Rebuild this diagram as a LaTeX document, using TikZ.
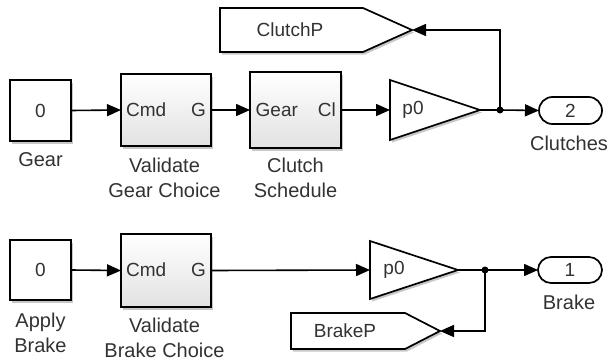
\documentclass[tikz,border=0pt]{standalone}
\usepackage{fontspec}
\setmainfont{Liberation Sans}
\usetikzlibrary{arrows.meta,shadows,shapes.misc}
\definecolor{txt}{RGB}{50,50,50}
\definecolor{subbot}{RGB}{226,226,226}
\tikzset{
  wire/.style={line width=1.6pt, draw=black},
  arr/.style={wire, -{Triangle[length=14pt,width=12pt]}},
  shd/.style={drop shadow={shadow xshift=2pt, shadow yshift=-2.5pt, opacity=0.22, fill=black}},
  constblk/.style={draw=black, line width=1.7pt, fill=white, shd, inner sep=0, outer sep=0, text=txt, font=\fontsize{19}{20}\selectfont},
  subblk/.style={draw=black, line width=1.7pt, top color=white, bottom color=subbot, shd, inner sep=0, outer sep=0},
  frame/.style={draw=none, inner sep=0, outer sep=0},
  intxt/.style={text=txt, font=\fontsize{19}{20}\selectfont, inner sep=0},
  lbl/.style={text=txt, font=\fontsize{20}{22}\selectfont, inner sep=0, anchor=base},
  outblk/.style={draw=black, line width=1.7pt, fill=white, rounded rectangle, inner sep=0, outer sep=0, text=txt, font=\fontsize{19}{20}\selectfont},
  shape poly/.style={line width=1.7pt, draw=black, fill=white, shd},
  junc/.style={circle, fill=black, inner sep=0, minimum size=7pt},
}
\begin{document}
\begin{tikzpicture}[x=1pt,y=-1pt]
\useasboundingbox (0,0) rectangle (609,361);
% ---------- top row ----------
\node[constblk, minimum width=61pt, minimum height=61pt] (gear) at (40.5,110.5) {0};
\node[lbl] (gearlbl) at (40.5,166) {Gear};

\node[subblk, minimum width=90pt, minimum height=72pt] (vgc) at (166,110) {};
\node[intxt, anchor=west] (vgccmd) at (126,110) {Cmd};
\node[intxt, anchor=east] (vgcg) at (206,110) {G};
\node[lbl] (vgclbl1) at (164.5,172) {Validate};
\node[lbl] (vgclbl2) at (164.5,197) {Gear Choice};

\node[subblk, minimum width=91pt, minimum height=76pt] (cs) at (295.5,110) {};
\node[intxt, anchor=west] (csgear) at (255.5,110) {Gear};
\node[intxt, anchor=east] (cscl) at (336,110) {Cl};
\node[lbl] (cslbl1) at (295.5,172) {Clutch};
\node[lbl] (cslbl2) at (295.5,197) {Schedule};

\node[frame, minimum width=90pt, minimum height=60pt] (g1) at (435,110) {};
\path[shape poly] (g1.north west) -- (g1.east) -- (g1.south west) -- cycle;
\node[intxt] (g1t) at (413,110) {p0};

\node[junc] (j1) at (500,110) {};
\node[outblk, minimum width=63pt, minimum height=27pt] (out2) at (570.5,110.5) {2};
\node[lbl] (out2lbl) at (569,150) {Clutches};

\node[frame, minimum width=192pt, minimum height=44pt] (cp) at (316,30) {};
\coordinate (cpc) at (363,8);
\coordinate (cpd) at (363,52);
\path[shape poly] (cp.north west) -- (cpc) -- (cp.east) -- (cpd) -- (cp.south west) -- cycle;
\node[intxt] (cpt) at (290,30) {ClutchP};

\draw[arr] (gear.east) -- (vgc.west);
\draw[arr] (vgc.east) -- (cs.west);
\draw[arr] (cs.east) -- (g1.west);
\draw[wire] (g1.east) -- (j1.center);
\draw[arr] (j1.center) -- (out2.west);
\draw[arr] (j1.center) |- (cp.east);

% ---------- bottom row ----------
\node[constblk, minimum width=61pt, minimum height=60pt] (ab) at (40.5,270) {0};
\node[lbl] (ablbl1) at (40.5,327) {Apply};
\node[lbl] (ablbl2) at (40.5,352) {Brake};

\node[subblk, minimum width=90pt, minimum height=73pt] (vbc) at (166,270.5) {};
\node[intxt, anchor=west] (vbccmd) at (126,270) {Cmd};
\node[intxt, anchor=east] (vbcg) at (206,270) {G};
\node[lbl] (vbclbl1) at (164.5,332) {Validate};
\node[lbl] (vbclbl2) at (164.5,357) {Brake Choice};

\node[frame, minimum width=88pt, minimum height=58pt] (g2) at (414,270) {};
\path[shape poly] (g2.north west) -- (g2.east) -- (g2.south west) -- cycle;
\node[intxt] (g2t) at (394,270) {p0};

\node[junc] (j2) at (485,270) {};
\node[outblk, minimum width=64pt, minimum height=26pt] (out1) at (570,270) {1};
\node[lbl] (out1lbl) at (569,309) {Brake};

\node[frame, minimum width=149pt, minimum height=36pt] (bp) at (365.5,331) {};
\coordinate (bpc) at (405,313);
\coordinate (bpd) at (405,349);
\path[shape poly] (bp.north west) -- (bpc) -- (bp.east) -- (bpd) -- (bp.south west) -- cycle;
\node[intxt] (bpt) at (345,331) {BrakeP};

\draw[arr] (ab.east) -- (vbc.west);
\draw[arr] (vbc.east) -- (g2.west);
\draw[wire] (g2.east) -- (j2.center);
\draw[arr] (j2.center) -- (out1.west);
\draw[arr] (j2.center) |- (bp.east);
\end{tikzpicture}
\end{document}
